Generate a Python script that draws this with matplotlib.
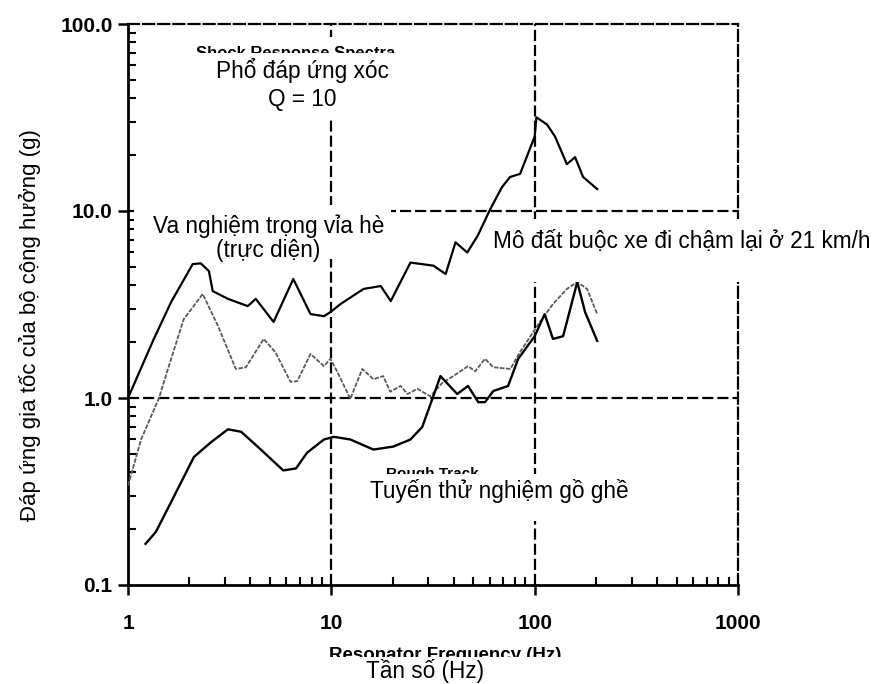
import matplotlib
matplotlib.use("Agg")
import matplotlib.pyplot as plt
from matplotlib.patches import Rectangle
from matplotlib.ticker import FixedLocator, NullFormatter

# curb impact (top solid curve)
freq_curb = [1.0, 1.34, 1.63, 2.08, 2.28, 2.50, 2.61, 3.10, 3.88, 4.25, 5.2, 6.5, 7.9, 9.2, 9.9,
             11.1, 14.4, 17.5, 19.6, 24.5, 31.8, 36.5, 40.8, 46.6, 52.4, 60.4, 69, 75.7, 84.8,
             100, 102, 115, 126, 144, 158, 173, 203]
resp_curb = [1.0, 2.07, 3.26, 5.2, 5.25, 4.77, 3.73, 3.39, 3.1, 3.39, 2.55, 4.33, 2.81, 2.74, 2.88,
             3.18, 3.83, 3.97, 3.3, 5.3, 5.1, 4.6, 6.8, 6.0, 7.36, 10.2, 13.4, 15.2, 15.8,
             25, 31.7, 29, 25, 17.8, 19.4, 15.2, 13.1]

# slowing mound (grey dotted curve)
freq_mound = [1.0, 1.16, 1.42, 1.63, 1.88, 2.33, 2.77, 3.39, 3.8, 4.65, 5.3, 6.3, 6.8, 7.9, 9.2,
              9.9, 10.7, 12.4, 14.2, 16.1, 18.0, 19.5, 21.9, 23.7, 26.5, 30.7, 35.0, 39.8, 47,
              51, 57, 62.6, 76, 84.7, 94.8, 106, 123, 144, 162, 181, 203]
resp_mound = [0.34, 0.60, 1.0, 1.62, 2.64, 3.6, 2.43, 1.43, 1.46, 2.07, 1.76, 1.22, 1.23, 1.72, 1.48,
              1.62, 1.38, 0.99, 1.43, 1.26, 1.31, 1.08, 1.16, 1.05, 1.12, 1.02, 1.2, 1.31, 1.48,
              1.39, 1.62, 1.46, 1.43, 1.76, 2.12, 2.55, 3.18, 3.83, 4.17, 3.83, 2.81]

# rough track (lower solid curve)
freq_rough = [1.22, 1.37, 1.63, 2.11, 2.56, 3.1, 3.6, 4.5, 5.8, 6.7, 7.6, 9.2, 10.3, 12.4, 16.1,
              20.2, 24.5, 28, 31.4, 34.4, 41.6, 47, 52.8, 57, 62.6, 74, 83, 100, 112, 123, 138,
              162, 177, 203]
resp_rough = [0.166, 0.192, 0.278, 0.484, 0.58, 0.68, 0.66, 0.53, 0.41, 0.42, 0.51, 0.60, 0.62, 0.60, 0.53,
              0.55, 0.60, 0.70, 0.99, 1.31, 1.05, 1.16, 0.95, 0.95, 1.09, 1.16, 1.62, 2.14, 2.81, 2.07, 2.14,
              4.17, 2.88, 2.02]

x_ticks = [1, 10, 100, 1000]
x_labels = ["1", "10", "100", "1000"]
y_ticks = [0.1, 1, 10, 100]
y_labels = ["0.1", "1.0", "10.0", "100.0"]

W, H = 875, 684
FS = 16.3


def fx(px):
    return px / W


def fy(py):
    return 1 - py / H


def cover(x0, y0, x1, y1, z):
    fig.patches.append(Rectangle((fx(x0), fy(y1)), (x1 - x0) / W, (y1 - y0) / H,
                                 transform=fig.transFigure, facecolor="white",
                                 edgecolor="none", zorder=z))


plt.rcParams["font.family"] = ["Liberation Sans", "DejaVu Sans"]

fig = plt.figure(figsize=(8.75, 6.84), dpi=100)
ax = fig.add_axes([fx(128), fy(585), (738 - 128) / W, (585 - 24) / H])
ax.set_xscale("log")
ax.set_yscale("log")
ax.set_xlim(1, 1000)
ax.set_ylim(0.1, 100)

dash = (0, (5, 1.8))
for v in [1, 10]:
    ax.axhline(v, color="black", lw=1.6, linestyle=dash, zorder=1)
for v in [10, 100]:
    ax.axvline(v, color="black", lw=1.6, linestyle=dash, zorder=1)

ax.plot(freq_curb, resp_curb, color="black", lw=1.6, zorder=3)
ax.plot(freq_mound, resp_mound, color="#5a5a5a", lw=1.3, linestyle=(0, (2.5, 0.8)), zorder=3)
ax.plot(freq_rough, resp_rough, color="black", lw=1.7, zorder=3)

for s in ["left", "bottom"]:
    ax.spines[s].set_linewidth(2)
for s in ["top", "right"]:
    ax.spines[s].set_linewidth(1.6)
    ax.spines[s].set_linestyle(dash)

ax.xaxis.set_major_locator(FixedLocator(x_ticks))
ax.set_xticklabels(x_labels)
ax.yaxis.set_major_locator(FixedLocator(y_ticks))
ax.set_yticklabels(y_labels)
ax.xaxis.set_minor_formatter(NullFormatter())
ax.yaxis.set_minor_formatter(NullFormatter())
tick_font = dict(family=["Liberation Sans Narrow", "Liberation Sans"], weight="bold", size=15)
for lab in ax.get_xticklabels() + ax.get_yticklabels():
    lab.set(**tick_font)
ax.tick_params(axis="both", which="major", direction="out", length=7, width=1.8)
ax.tick_params(axis="x", which="major", pad=14)
ax.tick_params(axis="y", which="major", pad=4)
ax.tick_params(axis="both", which="minor", direction="in", length=6, width=1.5)

# text overlays pasted over the original figure
cover(192, 37, 400, 117, 5)
fig.text(fx(296), fy(46), "Shock Response Spectra", ha="center", va="top",
         fontsize=12, weight="bold", zorder=6)
cover(192, 53, 400, 117, 7)
fig.text(fx(302), fy(78), "Phổ đáp ứng xóc", ha="center", va="baseline", fontsize=FS, zorder=8)
fig.text(fx(302), fy(106), "Q = 10", ha="center", va="baseline", fontsize=FS, zorder=8)

cover(134, 205, 391, 259, 5)
fig.text(fx(269), fy(233), "Va nghiệm trọng vỉa hè", ha="center", va="baseline", fontsize=FS, zorder=8)
fig.text(fx(268), fy(257), "(trực diện)", ha="center", va="baseline", fontsize=FS, zorder=8)

cover(489, 219, 875, 282, 5)
fig.text(fx(493), fy(248), "Mô đất buộc xe đi chậm lại ở 21 km/h", ha="left", va="baseline",
         fontsize=FS, zorder=8)

fig.text(fx(432), fy(467), "Rough Track", ha="center", va="top", fontsize=11, weight="bold", zorder=6)
cover(360, 474, 640, 521, 7)
fig.text(fx(370), fy(498), "Tuyến thử nghiệm gồ ghề", ha="left", va="baseline", fontsize=FS, zorder=8)

fig.text(fx(445), fy(647), "Resonator Frequency (Hz)", ha="center", va="top", fontsize=13.5,
         weight="bold", zorder=6)
cover(300, 657, 600, 684, 7)
fig.text(fx(425), fy(678), "Tần số (Hz)", ha="center", va="baseline", fontsize=FS, zorder=8)

fig.text(fx(30), fy(325), "Đáp ứng gia tốc của bộ cộng hưởng (g)", rotation=90,
         ha="center", va="center", fontsize=16)

fig.savefig("out.png", dpi=100, facecolor="white")
